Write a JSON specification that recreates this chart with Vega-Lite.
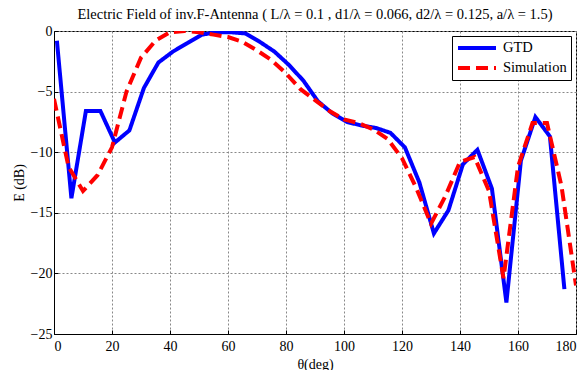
{
  "$schema": "https://vega.github.io/schema/vega-lite/v6.json",
  "autosize": "none",
  "width": 522,
  "height": 303,
  "padding": {"left": 54, "top": 31, "right": 12, "bottom": 36},
  "background": "white",
  "title": {
    "text": "Electric Field of inv.F-Antenna (  L/λ = 0.1 , d1/λ = 0.066, d2/λ = 0.125, a/λ = 1.5)",
    "font": "Liberation Serif",
    "fontSize": 14.5,
    "fontWeight": "normal",
    "color": "black",
    "anchor": "middle",
    "offset": 2
  },
  "config": {
    "view": {"stroke": "black", "strokeWidth": 1},
    "axis": {
      "labelFont": "Liberation Serif",
      "labelFontSize": 14,
      "labelColor": "black",
      "titleFont": "Liberation Serif",
      "titleFontSize": 14,
      "titleFontWeight": "normal",
      "titleColor": "black",
      "domainColor": "black",
      "tickColor": "black",
      "tickSize": -4,
      "gridColor": "#888888",
      "gridDash": [2, 2],
      "gridWidth": 1
    },
    "legend": {
      "labelFont": "Liberation Serif",
      "labelFontSize": 14.5,
      "labelColor": "black"
    }
  },
  "data": {
    "values": [
      {"series": "GTD", "theta": 1, "E": -0.8},
      {"series": "GTD", "theta": 6, "E": -13.8},
      {"series": "GTD", "theta": 11, "E": -6.6},
      {"series": "GTD", "theta": 16, "E": -6.6},
      {"series": "GTD", "theta": 21, "E": -9.2},
      {"series": "GTD", "theta": 26, "E": -8.2},
      {"series": "GTD", "theta": 31, "E": -4.7},
      {"series": "GTD", "theta": 36, "E": -2.6},
      {"series": "GTD", "theta": 41, "E": -1.7},
      {"series": "GTD", "theta": 46, "E": -1.0},
      {"series": "GTD", "theta": 51, "E": -0.3},
      {"series": "GTD", "theta": 56, "E": -0.1},
      {"series": "GTD", "theta": 61, "E": -0.1},
      {"series": "GTD", "theta": 66, "E": -0.2},
      {"series": "GTD", "theta": 71, "E": -0.9},
      {"series": "GTD", "theta": 76, "E": -1.7},
      {"series": "GTD", "theta": 81, "E": -2.8},
      {"series": "GTD", "theta": 86, "E": -4.1},
      {"series": "GTD", "theta": 91, "E": -5.8},
      {"series": "GTD", "theta": 96, "E": -6.8},
      {"series": "GTD", "theta": 101, "E": -7.5},
      {"series": "GTD", "theta": 106, "E": -7.8},
      {"series": "GTD", "theta": 111, "E": -8.0},
      {"series": "GTD", "theta": 116, "E": -8.4},
      {"series": "GTD", "theta": 121, "E": -9.6},
      {"series": "GTD", "theta": 126, "E": -12.5},
      {"series": "GTD", "theta": 131, "E": -16.7},
      {"series": "GTD", "theta": 136, "E": -14.8},
      {"series": "GTD", "theta": 141, "E": -11.0},
      {"series": "GTD", "theta": 146, "E": -9.8},
      {"series": "GTD", "theta": 151, "E": -13.0},
      {"series": "GTD", "theta": 156, "E": -22.4},
      {"series": "GTD", "theta": 161, "E": -10.7},
      {"series": "GTD", "theta": 166, "E": -7.1},
      {"series": "GTD", "theta": 171, "E": -8.7},
      {"series": "GTD", "theta": 176, "E": -21.3},
      {"series": "Simulation", "theta": 0, "E": -5.6},
      {"series": "Simulation", "theta": 5, "E": -11.2},
      {"series": "Simulation", "theta": 10, "E": -13.2},
      {"series": "Simulation", "theta": 15, "E": -11.9},
      {"series": "Simulation", "theta": 20, "E": -9.6},
      {"series": "Simulation", "theta": 25, "E": -5.0},
      {"series": "Simulation", "theta": 30, "E": -2.2},
      {"series": "Simulation", "theta": 35, "E": -0.8},
      {"series": "Simulation", "theta": 40, "E": -0.1},
      {"series": "Simulation", "theta": 45, "E": 0.0},
      {"series": "Simulation", "theta": 50, "E": -0.1},
      {"series": "Simulation", "theta": 55, "E": -0.3},
      {"series": "Simulation", "theta": 60, "E": -0.5},
      {"series": "Simulation", "theta": 65, "E": -0.9},
      {"series": "Simulation", "theta": 70, "E": -1.6},
      {"series": "Simulation", "theta": 75, "E": -2.4},
      {"series": "Simulation", "theta": 80, "E": -3.5},
      {"series": "Simulation", "theta": 85, "E": -4.8},
      {"series": "Simulation", "theta": 90, "E": -5.7},
      {"series": "Simulation", "theta": 95, "E": -6.6},
      {"series": "Simulation", "theta": 100, "E": -7.3},
      {"series": "Simulation", "theta": 105, "E": -7.6},
      {"series": "Simulation", "theta": 110, "E": -8.1},
      {"series": "Simulation", "theta": 115, "E": -8.9},
      {"series": "Simulation", "theta": 120, "E": -10.5},
      {"series": "Simulation", "theta": 125, "E": -13.0},
      {"series": "Simulation", "theta": 130, "E": -15.9},
      {"series": "Simulation", "theta": 135, "E": -13.6},
      {"series": "Simulation", "theta": 140, "E": -10.8},
      {"series": "Simulation", "theta": 145, "E": -10.4},
      {"series": "Simulation", "theta": 150, "E": -13.2},
      {"series": "Simulation", "theta": 155, "E": -20.4},
      {"series": "Simulation", "theta": 160, "E": -11.2},
      {"series": "Simulation", "theta": 165, "E": -7.6},
      {"series": "Simulation", "theta": 170, "E": -7.6},
      {"series": "Simulation", "theta": 175, "E": -12.8},
      {"series": "Simulation", "theta": 180, "E": -21.0}
    ]
  },
  "mark": {"type": "line", "strokeWidth": 4, "clip": true},
  "encoding": {
    "x": {
      "field": "theta",
      "type": "quantitative",
      "scale": {"domain": [0, 180], "nice": false, "zero": false},
      "axis": {"values": [0, 20, 40, 60, 80, 100, 120, 140, 160, 180], "title": "θ(deg)", "titlePadding": 4, "labelPadding": 9}
    },
    "y": {
      "field": "E",
      "type": "quantitative",
      "scale": {"domain": [-25, 0], "nice": false},
      "axis": {"values": [0, -5, -10, -15, -20, -25], "title": "E (dB)", "titlePadding": 4, "labelPadding": 6}
    },
    "color": {
      "field": "series",
      "type": "nominal",
      "scale": {"domain": ["GTD", "Simulation"], "range": ["#0000ff", "#ff0000"]},
      "legend": {
        "title": null,
        "orient": "top-right",
        "offset": 5,
        "fillColor": "white",
        "strokeColor": "black",
        "padding": 4,
        "symbolType": "stroke",
        "symbolSize": 1444,
        "symbolStrokeWidth": 4,
        "clipHeight": 16,
        "rowPadding": 4,
        "labelOffset": 5
      }
    },
    "strokeDash": {
      "field": "series",
      "type": "nominal",
      "scale": {"domain": ["GTD", "Simulation"], "range": [[1, 0], [12, 6]]},
      "legend": {
        "title": null,
        "orient": "top-right",
        "offset": 5,
        "fillColor": "white",
        "strokeColor": "black",
        "padding": 4,
        "symbolType": "stroke",
        "symbolSize": 1444,
        "symbolStrokeWidth": 4,
        "clipHeight": 16,
        "rowPadding": 4,
        "labelOffset": 5
      }
    }
  }
}
